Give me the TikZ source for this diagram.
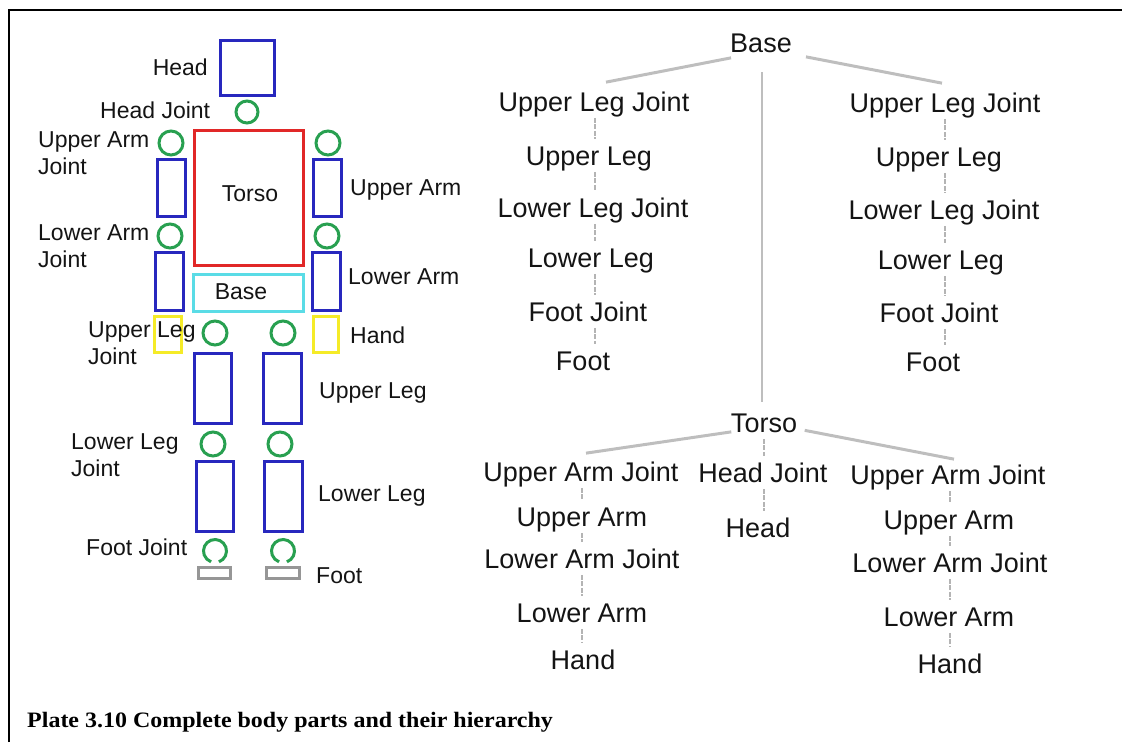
\documentclass[tikz,border=0pt]{standalone}
\usepackage{fontspec}
\setmainfont{Liberation Sans}
\newfontfamily\capfont{Liberation Serif}
\definecolor{bodyblue}{RGB}{40,40,190}
\definecolor{bodyred}{RGB}{225,40,40}
\definecolor{bodycyan}{RGB}{90,220,230}
\definecolor{bodygreen}{RGB}{40,160,80}
\definecolor{bodyyellow}{RGB}{245,235,40}
\definecolor{bodygray}{RGB}{150,150,150}
\definecolor{txt}{RGB}{20,20,20}
\definecolor{treeline}{RGB}{190,190,190}
\definecolor{dashline}{RGB}{180,180,180}
\begin{document}
\begin{tikzpicture}[x=1pt,y=-1pt,
  part/.style={line width=3pt},
  jointc/.style={line width=3pt, draw=bodygreen},
  blbl/.style={font=\fontsize{23}{27}\selectfont, text=txt, inner sep=0pt},
  tnode/.style={font=\fontsize{27}{32}\selectfont, text=txt, inner sep=0pt, text height=19.3pt, text depth=0pt},
  tline/.style={draw=treeline, line width=3pt},
  cline/.style={draw=treeline, line width=2pt},
  dline/.style={draw=dashline, line width=2.5pt, dash pattern=on 5pt off 1.5pt, shorten <=6pt, shorten >=7pt}]
\useasboundingbox (0,0) rectangle (1122,742);
% frame
\draw[line width=2pt, black] (9,742) -- (9,10) -- (1122,10);
% ---------- body figure ----------
\draw[part, draw=bodyblue] (220.5,40.5) rectangle (274.5,95.5);
\draw[jointc] (247,112) circle[radius=11pt];
\draw[part, draw=bodyred] (194.5,130.5) rectangle (303.5,265.5);
\draw[part, draw=bodycyan] (193.5,274.5) rectangle (303.5,311.5);
% arms
\draw[jointc] (171,143) circle[radius=12pt];
\draw[part, draw=bodyblue] (157.5,159.5) rectangle (185.5,216.5);
\draw[jointc] (170,236) circle[radius=12pt];
\draw[part, draw=bodyblue] (155.5,252.5) rectangle (183.5,310.5);
\draw[part, draw=bodyyellow] (154.5,316.5) rectangle (181.5,352.5);
\draw[jointc] (328,143) circle[radius=12pt];
\draw[part, draw=bodyblue] (313.5,159.5) rectangle (341.5,216.5);
\draw[jointc] (327,236) circle[radius=12pt];
\draw[part, draw=bodyblue] (312.5,252.5) rectangle (340.5,310.5);
\draw[part, draw=bodyyellow] (313.5,316.5) rectangle (338.5,352.5);
% legs
\draw[jointc] (215,333) circle[radius=12pt];
\draw[jointc] (283,333) circle[radius=12pt];
\draw[part, draw=bodyblue] (194.5,353.5) rectangle (231.5,423.5);
\draw[part, draw=bodyblue] (263.5,353.5) rectangle (301.5,423.5);
\draw[jointc] (213,444) circle[radius=12pt];
\draw[jointc] (280,444) circle[radius=12pt];
\draw[part, draw=bodyblue] (196.5,461.5) rectangle (233.5,531.5);
\draw[part, draw=bodyblue] (264.5,461.5) rectangle (302.5,531.5);
\draw[jointc] (215,551) ++(-70:11.5pt) arc[start angle=-70, end angle=250, radius=11.5pt];
\draw[jointc] (283,551) ++(-70:11.5pt) arc[start angle=-70, end angle=250, radius=11.5pt];
\draw[part, draw=bodygray] (198.5,567.5) rectangle (230.5,578.5);
\draw[part, draw=bodygray] (266.5,567.5) rectangle (299.5,578.5);
% body labels
\node[blbl, anchor=base east] (bhead) at (208,75) {Head};
\node[blbl, anchor=base west] (bheadj) at (100,118) {Head Joint};
\node[blbl, anchor=north west, align=left] (buaj) at (38,131.5) {Upper Arm\\Joint};
\node[blbl, anchor=north west, align=left] (blaj) at (38,224.5) {Lower Arm\\Joint};
\node[blbl, anchor=north west, align=left] (bulj) at (88,321.5) {Upper Leg\\Joint};
\node[blbl, anchor=north west, align=left] (bllj) at (71,433.5) {Lower Leg\\Joint};
\node[blbl, anchor=base west] (bfj) at (86,555) {Foot Joint};
\node[blbl, anchor=base] (btorso) at (250,201) {Torso};
\node[blbl, anchor=base] (bbase) at (241,299) {Base};
\node[blbl, anchor=base west] (bua) at (350,195) {Upper Arm};
\node[blbl, anchor=base west] (bla) at (348,284) {Lower Arm};
\node[blbl, anchor=base west] (bhand) at (350,343) {Hand};
\node[blbl, anchor=base west] (bul) at (319,398) {Upper Leg};
\node[blbl, anchor=base west] (bll) at (318,501) {Lower Leg};
\node[blbl, anchor=base west] (bfoot) at (316,583) {Foot};
% ---------- hierarchy ----------
\coordinate (colLL) at (595,0);
\coordinate (colRL) at (945,0);
\coordinate (colLA) at (582,0);
\coordinate (colM) at (764,0);
\coordinate (colRA) at (950,0);
\node[tnode] (tbase) at (761,43) {Base};
\node[tnode] (lulj) at (594,102) {Upper Leg Joint};
\node[tnode] (lul) at (589,156) {Upper Leg};
\node[tnode] (lllj) at (593,208) {Lower Leg Joint};
\node[tnode] (lll) at (591,258) {Lower Leg};
\node[tnode] (lfj) at (588,312) {Foot Joint};
\node[tnode] (lft) at (583,361) {Foot};
\node[tnode] (rulj) at (945,103) {Upper Leg Joint};
\node[tnode] (rul) at (939,157) {Upper Leg};
\node[tnode] (rllj) at (944,210) {Lower Leg Joint};
\node[tnode] (rll) at (941,260) {Lower Leg};
\node[tnode] (rfj) at (939,313) {Foot Joint};
\node[tnode] (rft) at (933,362) {Foot};
\node[tnode] (ttorso) at (764,423) {Torso};
\node[tnode] (luaj) at (581,472) {Upper Arm Joint};
\node[tnode] (lua) at (582,517) {Upper Arm};
\node[tnode] (llaj) at (582,559) {Lower Arm Joint};
\node[tnode] (lla) at (582,613) {Lower Arm};
\node[tnode] (lhd) at (583,660) {Hand};
\node[tnode] (thj) at (763,473) {Head Joint};
\node[tnode] (thd) at (758,528) {Head};
\node[tnode] (ruaj) at (948,475) {Upper Arm Joint};
\node[tnode] (rua) at (949,520) {Upper Arm};
\node[tnode] (rlaj) at (950,563) {Lower Arm Joint};
\node[tnode] (rla) at (949,617) {Lower Arm};
\node[tnode] (rhd) at (950,664) {Hand};
% tree connectors
\draw[tline] ([shift={(1,5)}]tbase.south west) -- ([shift={(12,-10)}]lulj.north);
\draw[tline] ([shift={(14,4)}]tbase.south east) -- ([shift={(-3,-10)}]rulj.north);
\draw[cline, shorten <=19.5pt, shorten >=11.5pt] ([xshift=1pt]tbase.south) -- ([xshift=1pt]tbase.south |- ttorso.north);
\draw[tline] ([shift={(0.5,-1)}]ttorso.south west) -- ([shift={(5,-9)}]luaj.north);
\draw[tline] ([shift={(7.5,-2.5)}]ttorso.south east) -- ([shift={(6,-6)}]ruaj.north);
\foreach \a/\b in {lulj/lul, lul/lllj, lllj/lll, lll/lfj, lfj/lft}
  \draw[dline] (\a.south -| colLL) -- (\b.north -| colLL);
\foreach \a/\b in {rulj/rul, rul/rllj, rllj/rll, rll/rfj, rfj/rft}
  \draw[dline] (\a.south -| colRL) -- (\b.north -| colRL);
\foreach \a/\b in {luaj/lua, lua/llaj, llaj/lla, lla/lhd}
  \draw[dline] (\a.south -| colLA) -- (\b.north -| colLA);
\foreach \a/\b in {ruaj/rua, rua/rlaj, rlaj/rla, rla/rhd}
  \draw[dline] (\a.south -| colRA) -- (\b.north -| colRA);
\draw[dline] (ttorso.south -| colM) -- (thj.north -| colM);
\draw[dline] (thj.south -| colM) -- (thd.north -| colM);
% caption
\node[anchor=base west, inner sep=0pt, text=black, font=\capfont\bfseries\fontsize{22}{26}\selectfont] (caption) at (27,727) {\scalebox{1.09}[1]{Plate 3.10 Complete body parts and their hierarchy}};
\end{tikzpicture}
\end{document}
